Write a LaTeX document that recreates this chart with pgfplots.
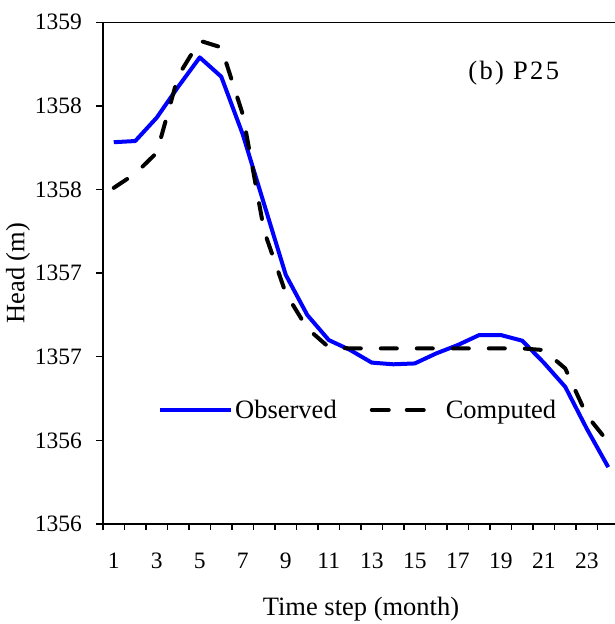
\documentclass[border=0pt]{standalone}
\usepackage{fontspec}
\setmainfont{Liberation Serif}
\newfontfamily\spaced[LetterSpace=9]{Liberation Serif}
\usepackage{pgfplots}
\pgfplotsset{compat=1.18}
\definecolor{obsblue}{RGB}{0,0,255}
\pgfplotsset{
  obsleg/.style={legend image code/.code={\draw[##1] (0pt,0pt) -- (71pt,0pt);}},
  compleg/.style={legend image code/.code={\draw[##1, dash pattern=on 17pt off 18pt] (0pt,0pt) -- (52pt,0pt);}},
}
\begin{document}
\begin{tikzpicture}
\begin{axis}[
  at={(0pt,0pt)}, anchor=south west,
  scale only axis, width=516pt, height=501.7pt,
  xmin=0.5, xmax=24.5, ymin=1355.5, ymax=1358.5,
  axis line style={line width=1.5pt, black},
  tick align=outside, xtick pos=bottom, ytick pos=left,
  xtick={1,3,5,7,9,11,13,15,17,19,21,23},
  xticklabels={1,3,5,7,9,11,13,15,17,19,21,23},
  minor xtick={0.5,1.5,...,24.5},
  ytick={1355.5,1356,1356.5,1357,1357.5,1358,1358.5},
  yticklabels={1356,1356,1357,1357,1358,1358,1359},
  major tick length=7pt, minor tick length=6pt,
  every major x tick/.append style={draw=none},
  every tick/.append style={line width=1.3pt, black},
  /pgf/number format/assume math mode=true,
  ticklabel style={font=\fontsize{23.5}{28}\selectfont},
  yticklabel style={anchor=east, inner sep=0pt, xshift=-14pt},
  xticklabel style={anchor=base, inner sep=0pt, yshift=-38pt},
  xlabel={Time step (month)}, ylabel={Head (m)},
  label style={font=\fontsize{26.5}{30}\selectfont},
  xlabel style={at={(axis description cs:0.5,-0.1814)}, anchor=base, inner sep=0pt},
  ylabel style={at={(axis description cs:-0.1647,0.5)}, anchor=center, inner sep=0pt},
  legend columns=2,
  legend style={at={(axis description cs:0.1066,0.2272)}, anchor=west, draw=none, fill=none,
    inner sep=0pt, font=\fontsize{26.5}{30}\selectfont,
    nodes={inner sep=0pt},
    /tikz/every even column/.append style={column sep=33pt}},
  clip=false,
]
\addplot[obsblue, line width=4pt, line join=round, obsleg]
coordinates {
(1,1357.783) (2,1357.79) (3,1357.93) (4,1358.115) (5,1358.29) (6,1358.175)
(7,1357.83) (8,1357.41) (9,1356.99) (10,1356.75) (11,1356.60) (12,1356.54)
(13,1356.465) (14,1356.455) (15,1356.46) (16,1356.52) (17,1356.57) (18,1356.63)
(19,1356.63) (20,1356.596) (21,1356.465) (22,1356.32) (23,1356.07) (24,1355.84)
};
\addlegendentry{\hspace{2pt}Observed}
\addplot[black, line width=4pt, line cap=round, line join=round, dash pattern=on 16pt off 20pt, compleg]
coordinates {
(1,1357.51) (2,1357.595) (3,1357.72) (4,1358.18) (5,1358.39) (6,1358.35)
(7,1357.95) (8,1357.25) (9,1356.88) (10,1356.67) (11,1356.557) (12,1356.55)
(13,1356.55) (14,1356.55) (15,1356.55) (16,1356.55) (17,1356.55) (18,1356.55)
(19,1356.55) (20,1356.55) (21,1356.54) (22,1356.43) (23,1356.15) (24,1355.99)
};
\addlegendentry{\hspace{20pt}Computed}
\node[font=\spaced\fontsize{26.5}{30}\selectfont, anchor=center] at (rel axis cs:0.796,0.898) {(b) P25};
\end{axis}
\pgfresetboundingbox
\path[use as bounding box] (-103pt,-100pt) rectangle (512pt,524pt);
\end{tikzpicture}
\end{document}
